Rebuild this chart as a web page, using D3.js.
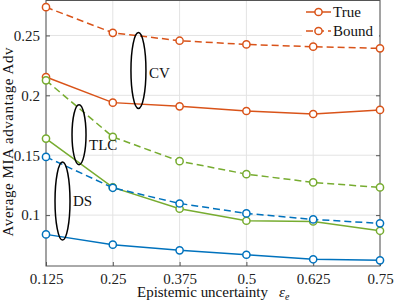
<!DOCTYPE html>
<html>
<head>
<meta charset="utf-8">
<script src="https://cdn.jsdelivr.net/npm/d3@7"></script>
<style>
  body { margin: 0; background: #fff; }
  svg { display: block; font-family: "Liberation Serif", "Times New Roman", serif; }
</style>
</head>
<body>
<svg id="chart" width="394" height="302"></svg>
<script>
// data
var epsilon = [0.125, 0.25, 0.375, 0.5, 0.625, 0.75];
var xTicks = ["0.125", "0.25", "0.375", "0.5", "0.625", "0.75"];
var yTicks = [0.1, 0.15, 0.2, 0.25];

var cvTrue   = [0.2153, 0.1939, 0.1908, 0.1869, 0.1844, 0.1878];
var cvBound  = [0.2736, 0.2522, 0.2456, 0.2425, 0.2406, 0.2392];
var tlcTrue  = [0.1639, 0.1231, 0.1053, 0.0953, 0.0947, 0.0869];
var tlcBound = [0.2125, 0.1653, 0.1450, 0.1342, 0.1273, 0.1231];
var dsTrue   = [0.0839, 0.0753, 0.0706, 0.0669, 0.0631, 0.0622];
var dsBound  = [0.1486, 0.1228, 0.1097, 0.1014, 0.0964, 0.0931];

var series = [
  { vals: cvBound,  color: "#D95319", dash: true },
  { vals: cvTrue,   color: "#D95319", dash: false },
  { vals: tlcBound, color: "#77AC30", dash: true },
  { vals: tlcTrue,  color: "#77AC30", dash: false },
  { vals: dsBound,  color: "#0072BD", dash: true },
  { vals: dsTrue,   color: "#0072BD", dash: false }
];

// group annotations (ellipse centre in data units)
var groups = [
  { name: "CV",  cx: 0.298,  cy: 0.2208, rx: 7.5, ry: 38, tx: 149, ty: 78 },
  { name: "TLC", cx: 0.1868, cy: 0.1671, rx: 7,   ry: 30, tx: 89,  ty: 150 },
  { name: "DS",  cx: 0.1559, cy: 0.1117, rx: 7.5, ry: 39, tx: 73,  ty: 206 }
];

var mLeft = 46, mRight = 380, mTop = 0.5, mBottom = 266;
var svg = d3.select("#chart");

var x = d3.scaleLinear().domain([0.125, 0.75]).range([mLeft, mRight]);
var y = d3.scaleLinear().domain([0.0575, 0.27917]).range([mBottom, mTop]);

// grid
var grid = svg.append("g").attr("stroke", "#e3e3e3").attr("stroke-width", 1);
grid.selectAll(".gx").data(epsilon).enter().append("line")
    .attr("x1", function(d) { return x(d); }).attr("x2", function(d) { return x(d); })
    .attr("y1", mTop).attr("y2", mBottom);
grid.selectAll(".gy").data(yTicks).enter().append("line")
    .attr("x1", mLeft).attr("x2", mRight)
    .attr("y1", function(d) { return y(d); }).attr("y2", function(d) { return y(d); });

// axes
var xAxis = d3.axisBottom(x).tickValues(epsilon).tickSize(-4).tickPadding(7)
    .tickFormat(function(d, i) { return xTicks[i]; });
var gx = svg.append("g").attr("transform", "translate(0," + mBottom + ")").call(xAxis);
var yAxis = d3.axisLeft(y).tickValues(yTicks).tickSize(-4).tickPadding(6)
    .tickFormat(function(d) { return d3.format("")(d); });
var gy = svg.append("g").attr("transform", "translate(" + mLeft + ",0)").call(yAxis);
var gyr = svg.append("g").attr("transform", "translate(" + mRight + ",0)")
    .call(d3.axisRight(y).tickValues(yTicks).tickSize(-4).tickFormat(""));
[gx, gy, gyr].forEach(function(g) {
  g.select(".domain").remove();
  g.selectAll("line").attr("stroke", "#555");
  g.selectAll("text").attr("font-family", "Liberation Serif").attr("font-size", 15).attr("fill", "#222");
});
svg.append("rect").attr("x", mLeft).attr("y", mTop)
    .attr("width", mRight - mLeft).attr("height", mBottom - mTop)
    .attr("fill", "none").attr("stroke", "#555").attr("stroke-width", 1);

// lines
var line = d3.line()
    .x(function(d, i) { return x(epsilon[i]); })
    .y(function(d) { return y(d); });

series.forEach(function(s) {
  svg.append("path").datum(s.vals)
      .attr("d", line)
      .attr("fill", "none")
      .attr("stroke", s.color)
      .attr("stroke-width", 1.5)
      .attr("stroke-dasharray", s.dash ? "7,4" : null);
  svg.selectAll(null).data(s.vals).enter().append("circle")
      .attr("cx", function(d, i) { return x(epsilon[i]); })
      .attr("cy", function(d) { return y(d); })
      .attr("r", 3.6)
      .attr("fill", "#fff")
      .attr("stroke", s.color)
      .attr("stroke-width", 1.5);
});

// ellipses + labels
groups.forEach(function(g) {
  svg.append("ellipse")
      .attr("cx", x(g.cx)).attr("cy", y(g.cy))
      .attr("rx", g.rx).attr("ry", g.ry)
      .attr("fill", "none").attr("stroke", "#000").attr("stroke-width", 1.5);
  svg.append("text").attr("x", g.tx).attr("y", g.ty)
      .attr("font-size", 15).attr("fill", "#111").text(g.name);
});

// legend
var leg = svg.append("g");
leg.append("rect").attr("x", 302).attr("y", 1).attr("width", 77).attr("height", 39).attr("fill", "#fff");
[{ label: "True", dash: false, yy: 12 }, { label: "Bound", dash: true, yy: 31 }].forEach(function(l) {
  leg.append("line").attr("x1", 306).attr("x2", 331).attr("y1", l.yy).attr("y2", l.yy)
      .attr("stroke", "#D95319").attr("stroke-width", 1.5)
      .attr("stroke-dasharray", l.dash ? "7,4" : null);
  leg.append("circle").attr("cx", 318.5).attr("cy", l.yy).attr("r", 3.6)
      .attr("fill", "#fff").attr("stroke", "#D95319").attr("stroke-width", 1.5);
  leg.append("text").attr("x", 333).attr("y", l.yy + 5).attr("font-size", 15).attr("fill", "#111").text(l.label);
});

// axis titles
svg.append("text").attr("x", 137).attr("y", 297).attr("font-size", 15).attr("fill", "#111")
    .attr("textLength", 131).text("Epistemic uncertainty");
var eps = svg.append("text").attr("x", 279).attr("y", 297).attr("font-size", 15).attr("fill", "#111");
eps.append("tspan").attr("font-style", "italic").text("\u03B5");
eps.append("tspan").attr("font-style", "italic").attr("font-size", 10).attr("dy", 3).text("e");

svg.append("text")
    .attr("transform", "translate(13," + 142 + ") rotate(-90)")
    .attr("text-anchor", "middle")
    .attr("font-size", 15).attr("fill", "#111")
    .attr("textLength", 189)
    .text("Average MIA advantage  Adv");
</script>
</body>
</html>
